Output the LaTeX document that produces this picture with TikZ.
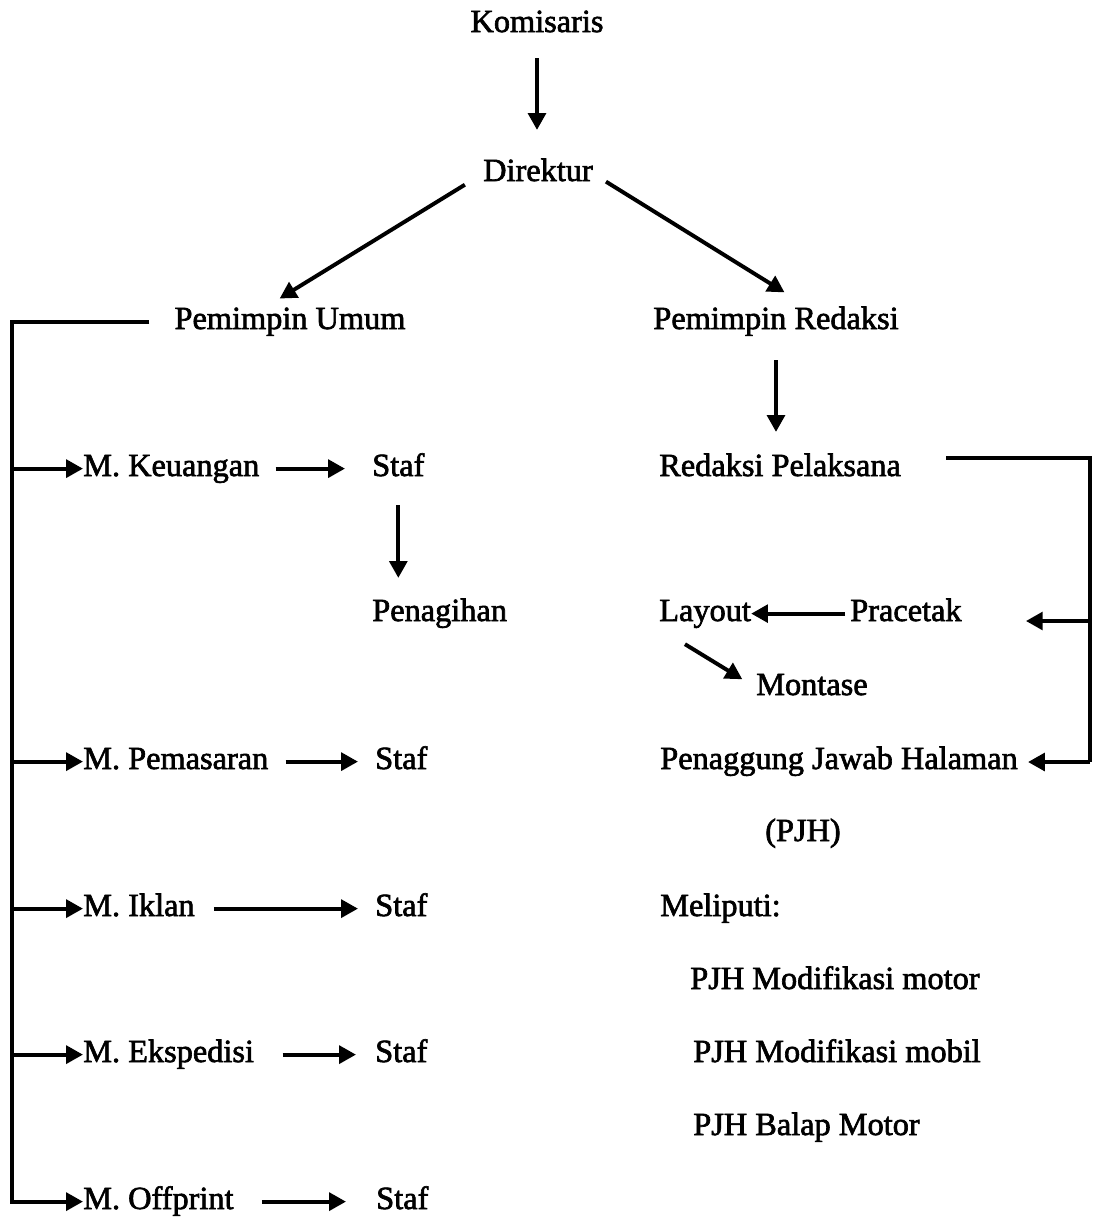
\documentclass[tikz,border=0pt]{standalone}
\usepackage{fontspec}
\setmainfont{Liberation Serif}[FakeBold=2]
\usetikzlibrary{arrows.meta}

\begin{document}
\begin{tikzpicture}[x=0.025cm, y=-0.025cm,
    jab/.style={inner sep=0pt, font=\fontsize{23}{28}\selectfont, text height=15.5pt, text depth=5pt, anchor=base},
    kiri/.style={jab, anchor=base west},
    garis/.style={line width=2.8pt},
    panah/.style={garis, -{Triangle[length=0.42cm, width=0.44cm]}}]
    \useasboundingbox (0,0) rectangle (1096,1219);

    % Pimpinan
    \node[jab] (kom) at (537,32) {Komisaris};
    \node[jab] (dir) at (538,181) {Direktur};
    \node[jab] (pu) at (290,329) {Pemimpin Umum};
    \node[jab] (pr) at (776,329) {Pemimpin Redaksi};

    % Bagian umum
    \node[kiri] (mk) at (83,476) {M. Keuangan};
    \node[kiri] (sk) at (372,476) {Staf};
    \node[kiri] (ph) at (372,621) {Penagihan};
    \node[kiri] (mp) at (83,769) {M. Pemasaran};
    \node[kiri] (sp) at (375,769) {Staf};
    \node[kiri] (mi) at (83,916) {M. Iklan};
    \node[kiri] (si) at (375,916) {Staf};
    \node[kiri] (me) at (83,1062) {M. Ekspedisi};
    \node[kiri] (se) at (375,1062) {Staf};
    \node[kiri] (mo) at (83,1209) {M. Offprint};
    \node[kiri] (so) at (376,1209) {Staf};

    % Bagian redaksi
    \node[kiri] (rp) at (659,476) {Redaksi Pelaksana};
    \node[kiri] (ly) at (659,621) {Layout};
    \node[kiri] (pc) at (850,621) {Pracetak};
    \node[kiri] (mt) at (756,695) {Montase};
    \node[kiri] (pjh) at (660,769) {Penaggung Jawab Halaman};
    \node[jab] (pjhk) at (803,841) {(PJH)};
    \node[kiri] (mel) at (660,916) {Meliputi:};
    \node[kiri] (pj1) at (690,989) {PJH Modifikasi motor};
    \node[kiri] (pj2) at (693,1062) {PJH Modifikasi mobil};
    \node[kiri] (pj3) at (693,1135) {PJH Balap Motor};

    \coordinate (bus) at (12,322);
    \coordinate (kt) at (1090,458);
    \coordinate (kb) at (1090,762);

    % Garis pimpinan
    \draw[panah, shorten <=0.475cm, shorten >=0.725cm] (kom.south) -- (kom.south |- dir.north);
    \draw[panah, shorten <=0.53cm, shorten >=0.4cm] (dir.west) -- ([xshift=-0.6cm]pu.north);
    \draw[panah, shorten <=0.38cm, shorten >=0.69cm] (dir.east) -- ([xshift=0.8cm]pr.north);

    % Garis umum
    \draw[panah, shorten <=0.62cm] (pu.west) -- (pu.west -| bus) -- (bus |- mo.west) -- (mo.west);
    \draw[panah] (bus |- mk.west) -- (mk.west);
    \draw[panah] (bus |- mp.west) -- (mp.west);
    \draw[panah] (bus |- mi.west) -- (mi.west);
    \draw[panah] (bus |- me.west) -- (me.west);
    \draw[panah, shorten <=0.4cm, shorten >=0.675cm] (mk.east) -- (sk.west);
    \draw[panah, shorten <=0.425cm, shorten >=0.425cm] (mp.east) -- (sp.west);
    \draw[panah, shorten <=0.475cm, shorten >=0.425cm] (mi.east) -- (si.west);
    \draw[panah, shorten <=0.71cm, shorten >=0.475cm] (me.east) -- (se.west);
    \draw[panah, shorten <=0.7cm, shorten >=0.75cm] (mo.east) -- (so.west);
    \draw[panah, shorten <=0.55cm, shorten >=0.525cm] (sk.south) -- (sk.south |- ph.north);

    % Garis redaksi
    \draw[panah, shorten <=0.6cm, shorten >=0.55cm] (pr.south) -- (pr.south |- rp.north);
    \draw[garis, shorten <=1.125cm] (rp.east |- kt) -- (kt) -- (kb);
    \draw[panah, shorten >=1.6cm] (kt |- pc.base) -- (pc.base east);
    \draw[panah, shorten >=0.25cm] (kb) -- (kb -| pjh.east);
    \draw[panah, shorten <=0.125cm] (pc.west) -- (ly.east);
    \draw[panah, shorten <=0.76cm, shorten >=0.4cm] (ly.south west) -- (mt.west);
\end{tikzpicture}
\end{document}
